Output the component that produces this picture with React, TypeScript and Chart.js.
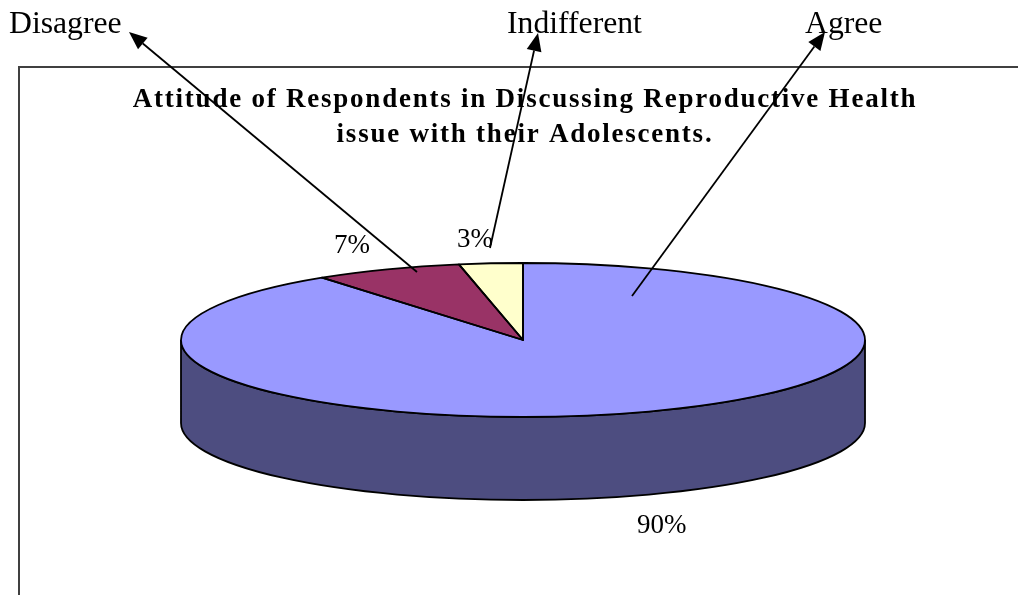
import React, { useEffect, useRef } from "react";
import { Chart, registerables } from "chart.js";

Chart.register(...registerables);

const categories = ["Agree", "Disagree", "Indifferent"];
const values = [90, 7, 3];
const sliceColors = ["#9999FF", "#993366", "#FFFFCC"];
const titleLines = [
  "Attitude of Respondents in Discussing Reproductive Health",
  "issue with their Adolescents.",
];

const SERIF = '"Liberation Serif", "Times New Roman", serif';
const CX = 523;
const CY = 340;
const RX = 342;
const RY = 77;
const DEPTH = 83;
const WALL = "#4D4D80";

const valueLabelPos = [
  { x: 637, y: 533 },
  { x: 334, y: 253 },
  { x: 457, y: 247 },
];
const categoryLabelPos = [
  { x: 805, y: 33 },
  { x: 9, y: 33 },
  { x: 507, y: 33 },
];
const leaders = [
  { from: [632, 296], to: [825, 32] },
  { from: [417, 272], to: [129, 32] },
  { from: [490, 248], to: [538, 33] },
];

function arrow(ctx: CanvasRenderingContext2D, from: number[], to: number[]) {
  const a = Math.atan2(to[1] - from[1], to[0] - from[0]);
  const len = 18;
  const half = 7.5;
  const bx = to[0] - len * Math.cos(a);
  const by = to[1] - len * Math.sin(a);
  ctx.strokeStyle = "#000";
  ctx.lineWidth = 1.8;
  ctx.beginPath();
  ctx.moveTo(from[0], from[1]);
  ctx.lineTo(bx, by);
  ctx.stroke();
  ctx.fillStyle = "#000";
  ctx.beginPath();
  ctx.moveTo(to[0], to[1]);
  ctx.lineTo(bx - half * Math.sin(a), by + half * Math.cos(a));
  ctx.lineTo(bx + half * Math.sin(a), by - half * Math.cos(a));
  ctx.closePath();
  ctx.fill();
}

const pie3d = {
  id: "pie3d",
  beforeDraw(chart: any) {
    const ctx = chart.ctx;
    ctx.save();
    ctx.fillStyle = "#fff";
    ctx.fillRect(0, 0, chart.width, chart.height);
    ctx.strokeStyle = "#404040";
    ctx.lineWidth = 2;
    ctx.beginPath();
    ctx.moveTo(19, 600);
    ctx.lineTo(19, 67);
    ctx.lineTo(1020, 67);
    ctx.stroke();
    ctx.restore();
    ctx.letterSpacing = "1.77px";
  },
  beforeDatasetsDraw(chart: any) {
    const ctx = chart.ctx;
    ctx.letterSpacing = "0px";
    // extruded wall
    ctx.save();
    ctx.beginPath();
    ctx.moveTo(CX - RX, CY);
    ctx.lineTo(CX - RX, CY + DEPTH);
    ctx.ellipse(CX, CY + DEPTH, RX, RY, 0, Math.PI, 0, true);
    ctx.lineTo(CX + RX, CY);
    ctx.ellipse(CX, CY, RX, RY, 0, 0, Math.PI, false);
    ctx.closePath();
    ctx.fillStyle = WALL;
    ctx.fill();
    ctx.strokeStyle = "#000";
    ctx.lineWidth = 1.8;
    ctx.stroke();
    ctx.restore();
    // flatten the library's own arcs into the top face
    const arc = chart.getDatasetMeta(0).data[0];
    const R = arc.outerRadius;
    ctx.save();
    ctx.translate(CX, CY);
    ctx.scale(RX / R, RY / R);
    ctx.translate(-arc.x, -arc.y);
  },
  afterDatasetsDraw(chart: any) {
    const ctx = chart.ctx;
    ctx.restore();
    ctx.save();
    ctx.strokeStyle = "#000";
    ctx.lineWidth = 1.8;
    ctx.lineJoin = "round";
    chart.getDatasetMeta(0).data.forEach((el: any) => {
      ctx.beginPath();
      ctx.moveTo(CX, CY);
      ctx.ellipse(CX, CY, RX, RY, 0, el.startAngle, el.endAngle, false);
      ctx.closePath();
      ctx.stroke();
    });
    ctx.restore();
  },
  afterDraw(chart: any) {
    const ctx = chart.ctx;
    ctx.save();
    ctx.fillStyle = "#000";
    ctx.textAlign = "left";
    ctx.textBaseline = "alphabetic";
    ctx.font = `27px ${SERIF}`;
    values.forEach((v, i) => {
      ctx.fillText(`${v}%`, valueLabelPos[i].x, valueLabelPos[i].y);
    });
    ctx.font = `31.7px ${SERIF}`;
    categories.forEach((c, i) => {
      ctx.fillText(c, categoryLabelPos[i].x, categoryLabelPos[i].y);
    });
    leaders.forEach((l) => arrow(ctx, l.from, l.to));
    ctx.restore();
  },
};

export default function App() {
  const ref = useRef<HTMLCanvasElement>(null);
  useEffect(() => {
    document.body.style.margin = "0";
    const chart = new Chart(ref.current!, {
      type: "pie",
      data: {
        labels: categories,
        datasets: [
          {
            data: values,
            backgroundColor: sliceColors,
            borderWidth: 0,
            clip: false,
          } as any,
        ],
      },
      options: {
        responsive: false,
        animation: false,
        devicePixelRatio: 1,
        layout: { padding: { left: 32, top: 82 } },
        plugins: {
          legend: { display: false },
          tooltip: { enabled: false },
          title: {
            display: true,
            text: titleLines,
            color: "#000",
            font: { family: SERIF, size: 27, weight: "bold", lineHeight: 1.3 },
            padding: 0,
          },
        },
      },
      plugins: [pie3d],
    });
    return () => chart.destroy();
  }, []);
  return (
    <canvas
      ref={ref}
      width={1018}
      height={595}
      style={{ display: "block", position: "fixed", left: 0, top: 0 }}
    />
  );
}
